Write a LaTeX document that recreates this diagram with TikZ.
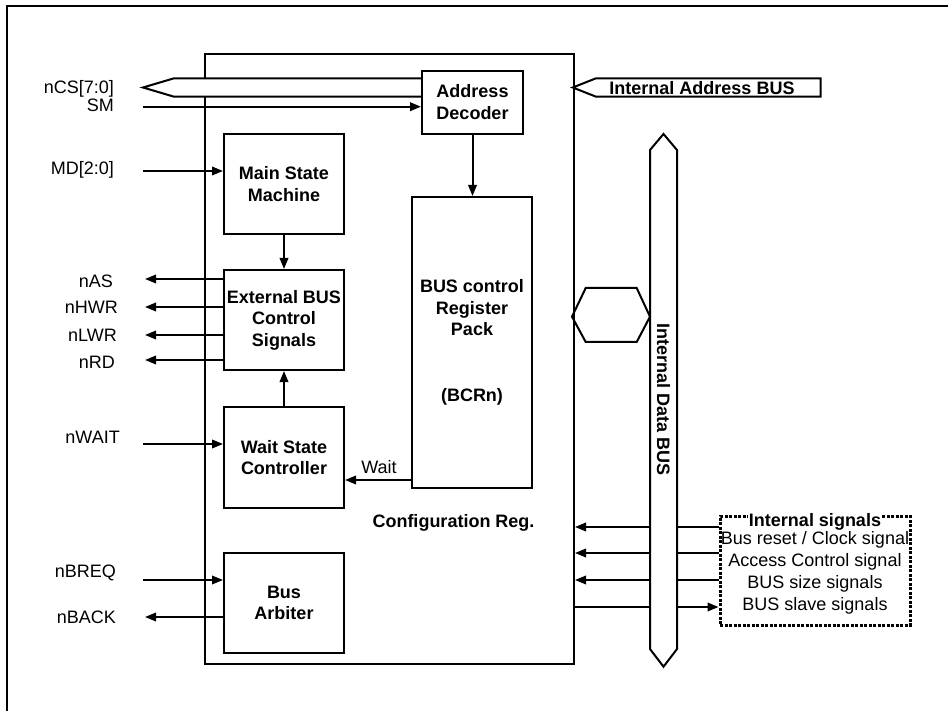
\documentclass[tikz,border=0pt]{standalone}
\usepackage{fontspec}
\setmainfont{Liberation Sans}
\usetikzlibrary{arrows.meta}
\newcommand\myfs{\fontsize{18}{21.5}\selectfont}
\tikzset{
  blk/.style={draw, line width=2pt, fill=white, font=\myfs\bfseries, align=center, inner sep=0pt},
  lbl/.style={font=\myfs, inner sep=0pt},
  blbl/.style={font=\myfs\bfseries, inner sep=0pt},
  ln/.style={line width=2pt},
  arr/.style={line width=2pt, -{Triangle[length=11pt,width=8.5pt]}},
  busline/.style={line width=2pt, fill=white, line join=miter},
}
\begin{document}
\begin{tikzpicture}[x=1pt,y=-1pt]
\useasboundingbox (0,0) rectangle (948,711);
% outer frame (only left and top visible)
\draw[line width=2.2pt] (7,730) -- (7,6) -- (960,6);
% main box
\node[draw, line width=2pt, fill=white, minimum width=369pt, minimum height=610.3pt, inner sep=0pt, anchor=north west] (main) at (204,52.7) {};
% nCS bus
\draw[busline] (422,78.3) -- (174,78.3) -- (143,87.5) -- (174,96.7) -- (422,96.7);
% internal address bus
\draw[busline] (820.7,78.3) -- (596,78.3) -- (572.7,87.5) -- (596,96.7) -- (820.7,96.7) -- cycle;
\node[blbl] (iab) at (702,88) {Internal Address BUS};
% internal data bus
\draw[busline] (650,150) -- (663.5,134) -- (677,150) -- (677,649) -- (663.5,666.7) -- (650,649) -- cycle;
\node[blbl, rotate=-90] (idb) at (663.5,400) {Internal Data BUS};
\coordinate (dbl) at (650,400);
\coordinate (dbr) at (677,400);
% hexagon
\draw[line width=2pt, line join=miter] (572,316.7) -- (585.7,288) -- (636.7,288) -- (650,316.7) -- (636.7,342) -- (585.7,342) -- cycle;
% blocks
\node[blk, minimum width=101pt, minimum height=63.3pt] (dec) at (472.5,102.3) {Address\\Decoder};
\node[blk, minimum width=120pt, minimum height=100pt] (msm) at (284,184) {Main State\\Machine};
\node[blk, minimum width=120pt, minimum height=100pt] (ext) at (284,320) {External BUS\\Control\\Signals};
\node[blk, minimum width=120pt, minimum height=101pt] (wsc) at (284,457.5) {Wait State\\Controller};
\node[blk, minimum width=120pt, minimum height=100pt] (arb) at (284,603) {Bus\\Arbiter};
\node[blk, minimum width=120pt, minimum height=291pt] (bcr) at (472,342.5) {BUS control\\Register\\Pack\\[44pt](BCRn)};
\node[blbl] (cfg) at (453.5,523) {Configuration Reg.};
% internal arrows
\draw[arr] (dec.south) -- (dec.south |- bcr.north);
\draw[arr] (msm.south) -- (ext.north);
\draw[arr] (wsc.north) -- (ext.south);
\coordinate (wy) at (380,480);
\draw[arr] (bcr.west |- wy) -- (wsc.east |- wy);
\node[lbl] (waitl) at (379,467) {Wait};
% left labels
\node[lbl, anchor=east] (ncs) at (114,89) {nCS[7:0]};
\node[lbl, anchor=east] (sm) at (114,105) {SM};
\node[lbl, anchor=east] (md) at (114,170) {MD[2:0]};
\node[lbl, anchor=east] (nas) at (113,281) {nAS};
\node[lbl, anchor=east] (nhwr) at (118,307) {nHWR};
\node[lbl, anchor=east] (nlwr) at (117,335) {nLWR};
\node[lbl, anchor=east] (nrd) at (115,362) {nRD};
\node[lbl, anchor=east] (nwait) at (120,437) {nWAIT};
\node[lbl, anchor=east] (nbreq) at (116,573) {nBREQ};
\node[lbl, anchor=east] (nback) at (116,617) {nBACK};
% left connectors
\coordinate (smS) at (143,106.7);
\draw[arr] (smS) -- (dec.west |- smS);
\coordinate (mdS) at (143,171);
\draw[arr] (mdS) -- (msm.west |- mdS);
\coordinate (nasE) at (145,279);
\coordinate (nhwrE) at (145,307);
\coordinate (nlwrE) at (145,335);
\coordinate (nrdE) at (145,360);
\draw[arr] (ext.west |- nasE) -- (nasE);
\draw[arr] (ext.west |- nhwrE) -- (nhwrE);
\draw[arr] (ext.west |- nlwrE) -- (nlwrE);
\draw[arr] (ext.west |- nrdE) -- (nrdE);
\coordinate (nwaitS) at (143,444);
\draw[arr] (nwaitS) -- (wsc.west |- nwaitS);
\coordinate (nbreqS) at (143,580);
\draw[arr] (nbreqS) -- (arb.west |- nbreqS);
\coordinate (nbackE) at (145,617);
\draw[arr] (arb.west |- nbackE) -- (nbackE);
% internal signals box
\node[lbl] (t1) at (815,540) {Bus reset / Clock signal};
\node[lbl] (t2) at (815,562) {Access Control signal};
\node[lbl] (t3) at (815,584) {BUS size signals};
\node[lbl] (t4) at (815,606) {BUS slave signals};
\node[draw, line width=3pt, dash pattern=on 3pt off 1.5pt, minimum width=190pt, minimum height=109pt, inner sep=0pt] (sig) at (815,570.5) {};
\node[blbl, fill=white, inner sep=0.5pt] (sigt) at (815,522) {Internal signals};
% signal lines
\coordinate (s1) at (700,527);
\coordinate (s2) at (700,553);
\coordinate (s3) at (700,580);
\coordinate (s4) at (700,607);
\draw[arr] (dbl |- s1) -- (main.east |- s1);
\draw[arr] (dbl |- s2) -- (main.east |- s2);
\draw[arr] (dbl |- s3) -- (main.east |- s3);
\draw[ln] (main.east |- s4) -- (dbl |- s4);
\draw[ln] (dbr |- s1) -- (sig.west |- s1);
\draw[ln] (dbr |- s2) -- (sig.west |- s2);
\draw[ln] (dbr |- s3) -- (sig.west |- s3);
\draw[arr] (dbr |- s4) -- (sig.west |- s4);
\end{tikzpicture}
\end{document}
